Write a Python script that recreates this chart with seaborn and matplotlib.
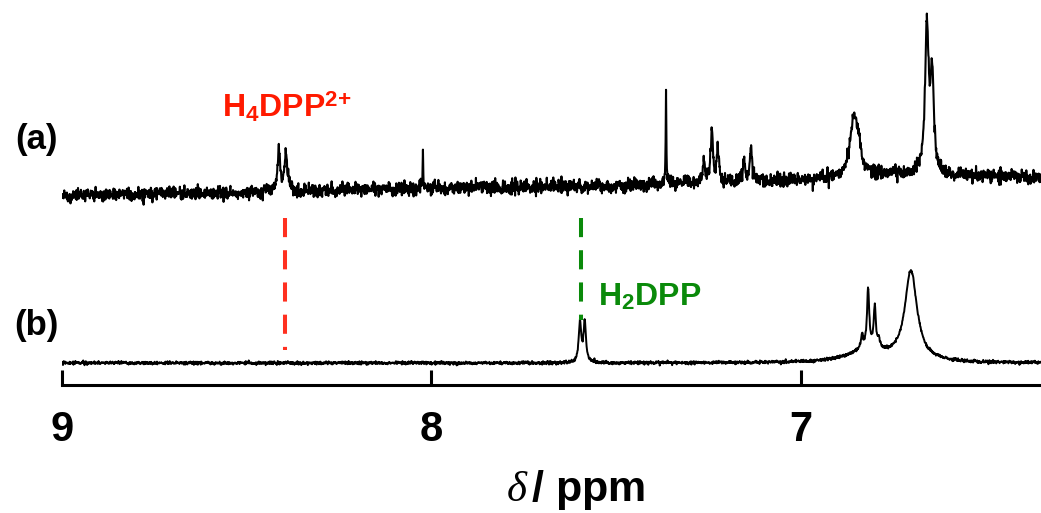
import numpy as np
import pandas as pd
import matplotlib
matplotlib.use("Agg")
import matplotlib.pyplot as plt
import seaborn as sns

# ---------------- data ----------------
# x axis (ppm, reversed)
x_ticks = [9, 8, 7]
tick_labels = ["9", "8", "7"]
x_left, x_right = 9.0, 6.35

# trace (a): peak list (ppm, height above baseline, FWHM in ppm)
a_pos = [8.413, 8.394, 8.023, 7.365, 7.263, 7.241, 7.225, 7.154, 7.135, 6.860, 6.848, 6.659, 6.645]
a_height = [38, 38, 36, 92, 22, 54, 34, 19, 33, 38, 38, 146, 98]
a_fwhm = [0.009, 0.009, 0.002, 0.002, 0.007, 0.007, 0.007, 0.007, 0.007, 0.022, 0.022, 0.011, 0.011]
# trace (a): baseline drift (ppm, level)
a_base_ppm = [9.0, 8.5, 8.0, 7.5, 7.4, 7.0, 6.9, 6.75, 6.6, 6.35]
a_base_lvl = [190, 193, 197, 199, 201, 205, 207, 211, 210, 208]
a_noise = 3.4

# trace (b): peak list
b_pos = [7.598, 7.585, 6.834, 6.818, 6.800, 6.789, 6.702, 6.820]
b_height = [40, 40, 12, 58, 40, 8, 90, 13]
b_fwhm = [0.008, 0.008, 0.007, 0.007, 0.007, 0.007, 0.040, 0.12]
b_base_lvl = 22
b_noise = 0.8

# annotations
red_ppm, red_y0, red_y1 = 8.396, 35, 167
green_ppm, green_y0, green_y1 = 7.595, 65, 167

# ---------------- build the traces ----------------
grid = np.union1d(np.linspace(x_left, x_right, 3000), np.array(a_pos + b_pos))[::-1]


def lorentz_sum(x, pos, h, w):
    y = np.zeros_like(x)
    for p, hh, ww in zip(pos, h, w):
        y += hh / (1.0 + (2.0 * (x - p) / ww) ** 2)
    return y


rng = np.random.default_rng(7)  # measurement noise texture of the recorded trace
a_base = np.interp(grid, a_base_ppm[::-1], a_base_lvl[::-1])
trace_a = a_base + lorentz_sum(grid, a_pos, a_height, a_fwhm) + rng.normal(0, a_noise, grid.size)
trace_b = b_base_lvl + lorentz_sum(grid, b_pos, b_height, b_fwhm) + rng.normal(0, b_noise, grid.size)

df = pd.concat([
    pd.DataFrame({"ppm": grid, "I": trace_a, "trace": "a"}),
    pd.DataFrame({"ppm": grid, "I": trace_b, "trace": "b"}),
])

# ---------------- plotting ----------------
sns.set_style("white")
plt.rcParams["font.family"] = ["Liberation Sans", "DejaVu Sans"]
plt.rcParams["mathtext.fontset"] = "custom"
plt.rcParams["mathtext.rm"] = "Liberation Sans"
plt.rcParams["mathtext.bf"] = "Liberation Sans:bold"
plt.rcParams["mathtext.it"] = "Liberation Serif:italic"
plt.rcParams["text.color"] = "black"

W, H = 1041, 513
fig = plt.figure(figsize=(W / 100, H / 100), dpi=100)
ax = fig.add_axes([62 / W, 1 - 385 / H, (W - 62) / W, 385 / H])

for name, d in df.groupby("trace"):
    sns.lineplot(data=d, x="ppm", y="I", ax=ax, color="black",
                 lw=1.5 if name == "a" else 1.4,
                 estimator=None, sort=False, legend=False)

ax.set_xlim(x_left, x_right)
ax.set_ylim(0, 385)

# dashed guide lines
ax.plot([red_ppm, red_ppm], [red_y1, red_y0], color="#ff3020", lw=2.9,
        linestyle=(0, (4.75, 3.25)), dash_capstyle="butt", solid_capstyle="butt")
ax.plot([green_ppm, green_ppm], [green_y1, green_y0], color="#0a8a0a", lw=2.9,
        linestyle=(0, (4.75, 3.25)), dash_capstyle="butt", solid_capstyle="butt")

# labels
ax.text(8.392, 385 - 117, r"H$_\mathbf{4}$DPP$^\mathbf{2{+}}$", color="#ff1a00",
        fontsize=23, fontweight="bold", ha="center", va="baseline")
ax.text(7.549, 385 - 305, r"H$_\mathbf{2}$DPP", color="#0a8a0a",
        fontsize=23, fontweight="bold", ha="left", va="baseline")
ax.text(9.07, 385 - 140, "(a)", fontsize=25, fontweight="bold", ha="center", va="center",
        color="black")
ax.text(9.07, 385 - 325, "(b)", fontsize=25, fontweight="bold", ha="center", va="center",
        color="black")

# axes styling
for s in ["left", "top", "right"]:
    ax.spines[s].set_visible(False)
ax.spines["bottom"].set_linewidth(2.2)
ax.spines["bottom"].set_color("black")
ax.set_yticks([])
ax.set_xticks(x_ticks, labels=tick_labels, fontsize=30, fontweight="bold")
ax.tick_params(axis="x", bottom=True, direction="in", length=11, width=2.2, pad=18,
               color="black", labelcolor="black")
ax.set_ylabel("")
ax.set_xlabel(r"$\mathit{\delta}\,$/ ppm", fontsize=31, fontweight="bold", color="black")
ax.xaxis.set_label_coords((576 - 62) / (W - 62), -0.215)

fig.savefig("out.png", dpi=100)
